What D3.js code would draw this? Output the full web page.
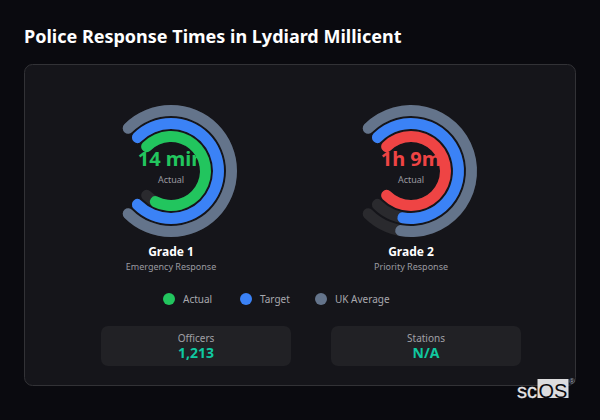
<!DOCTYPE html>
<html>
<head>
<meta charset="utf-8">
<script src="https://cdn.jsdelivr.net/npm/d3@7"></script>
<style>
  html, body { margin: 0; padding: 0; background: #0a0a0f; overflow: hidden; }
  text { font-family: "Noto Sans", sans-serif; }
</style>
</head>
<body>
<svg id="chart" width="600" height="420"></svg>
<script>
// values, in minutes
var grades = ["Grade 1", "Grade 2"];
var subtitles = ["Emergency Response", "Priority Response"];
var actual = [14, 69];
var target = [15, 60];
var ukAverage = [15, 60];
var actualLabels = ["14 min", "1h 9m"];
var actualColors = ["#22c55e", "#ef4444"];
var legendLabels = ["Actual", "Target", "UK Average"];
var statLabels = ["Officers", "Stations"];
var statValues = ["1,213", "N/A"];

var svg = d3.select("#chart");

svg.append("text")
  .attr("x", 24).attr("y", 43)
  .attr("font-size", 18).attr("font-weight", 700)
  .attr("fill", "#ffffff")
  .text("Police Response Times in Lydiard Millicent");

// card behind everything
svg.append("rect")
  .attr("x", 24.5).attr("y", 64.5)
  .attr("width", 551).attr("height", 321)
  .attr("rx", 8)
  .attr("fill", "#15151a")
  .attr("stroke", "#323236");

var centerX = d3.scalePoint().domain(grades).range([171, 411]);
var centerY = 171;
var ringRadius = { ukAverage: 60.5, target: 47.5, actual: 34.5 };
var ringWidth = 11;

/**
 * Draws one 270 degree ring: the dark track and the filled part on top.
 * The ends are pushed out by half the width so the caps sit like round line caps.
 */
function drawRing(g, radius, value, max, color) {
  var angle = d3.scaleLinear()
    .domain([0, max])
    .range([-Math.PI / 4, Math.PI * 5 / 4]);
  var cap = (ringWidth / 2) / radius;
  var arc = d3.arc()
    .innerRadius(radius - ringWidth / 2)
    .outerRadius(radius + ringWidth / 2)
    .cornerRadius(ringWidth / 2);

  g.append("path")
    .attr("d", arc({ startAngle: angle(0) - cap, endAngle: angle(max) + cap }))
    .attr("fill", "#2a2a2e");

  g.append("path")
    .attr("d", arc({ startAngle: angle(0) - cap, endAngle: angle(value) + cap }))
    .attr("fill", color);
}

grades.forEach(function (grade, i) {
  var g = svg.append("g")
    .attr("transform", "translate(" + centerX(grade) + "," + centerY + ")");
  var max = d3.max([actual[i], target[i], ukAverage[i]]);

  drawRing(g, ringRadius.ukAverage, ukAverage[i], max, "#64748b");
  drawRing(g, ringRadius.target, target[i], max, "#3b82f6");
  drawRing(g, ringRadius.actual, actual[i], max, actualColors[i]);

  g.append("text")
    .attr("y", -5)
    .attr("text-anchor", "middle")
    .attr("font-size", 20).attr("font-weight", 700)
    .attr("fill", actualColors[i])
    .text(actualLabels[i]);
  g.append("text")
    .attr("y", 12)
    .attr("text-anchor", "middle")
    .attr("font-size", 9)
    .attr("fill", "#9a9aa0")
    .text("Actual");

  g.append("text")
    .attr("y", 85)
    .attr("text-anchor", "middle")
    .attr("font-size", 12).attr("font-weight", 700)
    .attr("fill", "#ffffff")
    .text(grade);
  g.append("text")
    .attr("y", 99)
    .attr("text-anchor", "middle")
    .attr("font-size", 9)
    .attr("fill", "#9a9aa0")
    .text(subtitles[i]);
});

// legend
var legendColor = d3.scaleOrdinal().domain(legendLabels).range(["#22c55e", "#3b82f6", "#64748b"]);
var legendX = d3.scaleOrdinal().domain(legendLabels).range([169, 246, 321]);
var legend = svg.selectAll(".legend").data(legendLabels).enter().append("g")
  .attr("class", "legend")
  .attr("transform", function (d) { return "translate(" + legendX(d) + ",299)"; });
legend.append("circle").attr("r", 6).attr("fill", function (d) { return legendColor(d); });
legend.append("text")
  .attr("x", 14).attr("y", 4)
  .attr("font-size", 10)
  .attr("fill", "#a8a8ae")
  .text(function (d) { return d; });

// stat boxes
var statX = d3.scaleOrdinal().domain(statLabels).range([101, 331]);
var stat = svg.selectAll(".stat").data(statLabels).enter().append("g")
  .attr("class", "stat")
  .attr("transform", function (d) { return "translate(" + statX(d) + ",326)"; });
stat.append("rect")
  .attr("width", 190).attr("height", 40)
  .attr("rx", 7)
  .attr("fill", "#212125");
stat.append("text")
  .attr("x", 95).attr("y", 16)
  .attr("text-anchor", "middle")
  .attr("font-size", 10)
  .attr("fill", "#a0a0a5")
  .text(function (d) { return d; });
stat.append("text")
  .attr("x", 95).attr("y", 32)
  .attr("text-anchor", "middle")
  .attr("font-size", 14).attr("font-weight", 700)
  .attr("fill", "#10c8a0")
  .text(function (d, i) { return statValues[i]; });

// scOS mark, bottom right
var mark = svg.append("g").attr("class", "mark");
mark.append("rect")
  .attr("x", 537.5).attr("y", 379)
  .attr("width", 31).attr("height", 19)
  .attr("fill", "#dcdcde");
mark.append("text")
  .attr("x", 517).attr("y", 397.5)
  .attr("font-size", 20)
  .attr("fill", "#e4e4e6")
  .attr("stroke", "#e4e4e6")
  .attr("stroke-width", 0.3)
  .style("font-family", "'Liberation Sans', sans-serif")
  .text("sc");
mark.append("text")
  .attr("x", 538.5).attr("y", 397.5)
  .attr("font-size", 20)
  .attr("fill", "#0a0a0f")
  .style("font-family", "'Liberation Sans', sans-serif")
  .text("OS");
mark.append("text")
  .attr("x", 569).attr("y", 384)
  .attr("font-size", 8)
  .attr("fill", "#9aa4b4")
  .style("font-family", "'Liberation Sans', sans-serif")
  .text("®");
</script>
</body>
</html>
